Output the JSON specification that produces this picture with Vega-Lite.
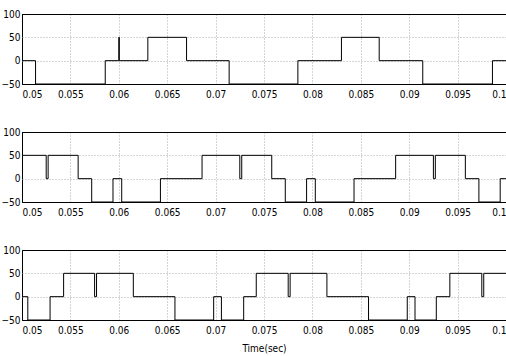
{
  "$schema": "https://vega.github.io/schema/vega-lite/v6.json",
  "padding": {"left": 0, "top": 8, "right": 0, "bottom": 0},
  "background": "white",
  "spacing": 25,
  "datasets": {
    "p1": [
      {"t": 0.05, "v": 0}, {"t": 0.0514, "v": -50}, {"t": 0.0586, "v": 0},
      {"t": 0.06, "v": 50}, {"t": 0.06005, "v": 0},
      {"t": 0.0630, "v": 50}, {"t": 0.0670, "v": 0}, {"t": 0.0714, "v": -50},
      {"t": 0.0785, "v": 0}, {"t": 0.0830, "v": 50}, {"t": 0.0869, "v": 0},
      {"t": 0.0914, "v": -50}, {"t": 0.0986, "v": 0}, {"t": 0.1, "v": 0}
    ],
    "p2": [
      {"t": 0.05, "v": 50}, {"t": 0.0525, "v": 0}, {"t": 0.0527, "v": 50},
      {"t": 0.0558, "v": 0}, {"t": 0.0572, "v": -50}, {"t": 0.0594, "v": 0},
      {"t": 0.0603, "v": -50}, {"t": 0.0643, "v": 0}, {"t": 0.0686, "v": 50},
      {"t": 0.0725, "v": 0}, {"t": 0.0727, "v": 50}, {"t": 0.0758, "v": 0},
      {"t": 0.0772, "v": -50}, {"t": 0.0794, "v": 0}, {"t": 0.0803, "v": -50},
      {"t": 0.0843, "v": 0}, {"t": 0.0886, "v": 50}, {"t": 0.0925, "v": 0},
      {"t": 0.0927, "v": 50}, {"t": 0.0958, "v": 0}, {"t": 0.0972, "v": -50},
      {"t": 0.0994, "v": 0}, {"t": 0.1, "v": 0}
    ],
    "p3": [
      {"t": 0.05, "v": 0}, {"t": 0.0506, "v": -50}, {"t": 0.0529, "v": 0},
      {"t": 0.0543, "v": 50}, {"t": 0.0575, "v": 0}, {"t": 0.0577, "v": 50},
      {"t": 0.0615, "v": 0}, {"t": 0.0658, "v": -50}, {"t": 0.0698, "v": 0},
      {"t": 0.0706, "v": -50}, {"t": 0.0729, "v": 0}, {"t": 0.0742, "v": 50},
      {"t": 0.0775, "v": 0}, {"t": 0.0777, "v": 50}, {"t": 0.0815, "v": 0},
      {"t": 0.0858, "v": -50}, {"t": 0.0898, "v": 0}, {"t": 0.0906, "v": -50},
      {"t": 0.0928, "v": 0}, {"t": 0.0942, "v": 50}, {"t": 0.0975, "v": 0},
      {"t": 0.0977, "v": 50}, {"t": 0.1, "v": 50}
    ]
  },
  "config": {
    "view": {"stroke": "black", "strokeWidth": 1},
    "font": "DejaVu Sans Condensed",
    "axis": {
      "labelFont": "DejaVu Sans Condensed",
      "labelFontSize": 10,
      "labelColor": "black",
      "domain": false,
      "ticks": false,
      "grid": true,
      "gridWidth": 1,
      "titleFont": "DejaVu Sans Condensed",
      "titleFontSize": 10,
      "titleFontWeight": "normal",
      "titleColor": "black"
    },
    "axisX": {
      "gridColor": {"condition": {"test": "datum.value <= 0.0501 || datum.value >= 0.0999", "value": "black"}, "value": "#aaaaaa"},
      "gridDash": {"condition": {"test": "datum.value <= 0.0501 || datum.value >= 0.0999", "value": []}, "value": [1, 2]}
    },
    "axisY": {
      "gridColor": {"condition": {"test": "datum.value == 100 || datum.value == -50", "value": "black"}, "value": "#aaaaaa"},
      "gridDash": {"condition": {"test": "datum.value == 100 || datum.value == -50", "value": []}, "value": [1, 2]}
    }
  },
  "vconcat": [
    {
      "width": 484, "height": 70,
      "data": {"name": "p1"},
      "mark": {"type": "line", "interpolate": "step-after", "color": "black", "strokeWidth": 1},
      "encoding": {
        "x": {"field": "t", "type": "quantitative",
          "scale": {"domain": [0.05, 0.1], "nice": false, "zero": false},
          "axis": {"values": [0.05, 0.055, 0.06, 0.065, 0.07, 0.075, 0.08, 0.085, 0.09, 0.095, 0.1], "format": ".3~f", "title": null, "labelPadding": 5, "minExtent": 16, "maxExtent": 16}},
        "y": {"field": "v", "type": "quantitative",
          "scale": {"domain": [-50, 100], "nice": false},
          "axis": {"values": [-50, 0, 50, 100], "title": null, "labelPadding": 2, "minExtent": 21, "maxExtent": 21}}
      }
    },
    {
      "width": 484, "height": 70,
      "data": {"name": "p2"},
      "mark": {"type": "line", "interpolate": "step-after", "color": "black", "strokeWidth": 1},
      "encoding": {
        "x": {"field": "t", "type": "quantitative",
          "scale": {"domain": [0.05, 0.1], "nice": false, "zero": false},
          "axis": {"values": [0.05, 0.055, 0.06, 0.065, 0.07, 0.075, 0.08, 0.085, 0.09, 0.095, 0.1], "format": ".3~f", "title": null, "labelPadding": 5, "minExtent": 16, "maxExtent": 16}},
        "y": {"field": "v", "type": "quantitative",
          "scale": {"domain": [-50, 100], "nice": false},
          "axis": {"values": [-50, 0, 50, 100], "title": null, "labelPadding": 2, "minExtent": 21, "maxExtent": 21}}
      }
    },
    {
      "width": 484, "height": 70,
      "data": {"name": "p3"},
      "mark": {"type": "line", "interpolate": "step-after", "color": "black", "strokeWidth": 1},
      "encoding": {
        "x": {"field": "t", "type": "quantitative",
          "scale": {"domain": [0.05, 0.1], "nice": false, "zero": false},
          "axis": {"values": [0.05, 0.055, 0.06, 0.065, 0.07, 0.075, 0.08, 0.085, 0.09, 0.095, 0.1], "format": ".3~f", "title": "Time(sec)", "titlePadding": 7, "labelPadding": 5, "minExtent": 16, "maxExtent": 16}},
        "y": {"field": "v", "type": "quantitative",
          "scale": {"domain": [-50, 100], "nice": false},
          "axis": {"values": [-50, 0, 50, 100], "title": null, "labelPadding": 2, "minExtent": 21, "maxExtent": 21}}
      }
    }
  ]
}
